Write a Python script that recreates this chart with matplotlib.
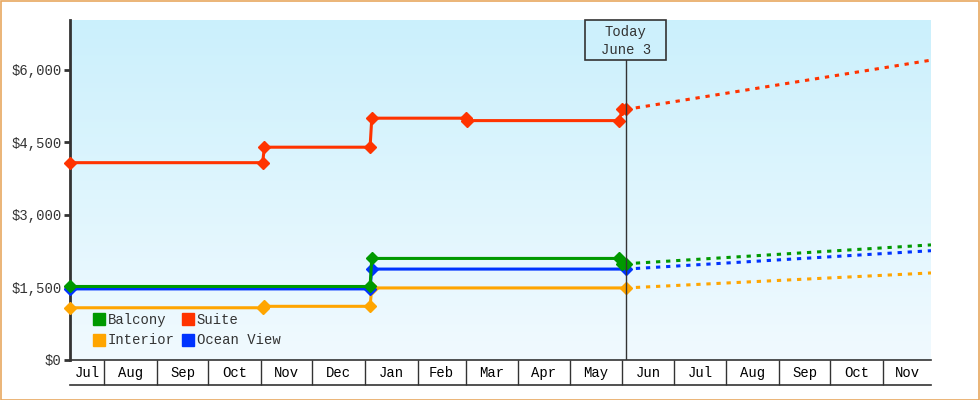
import numpy as np
import matplotlib
matplotlib.use("Agg")
import matplotlib.pyplot as plt
import matplotlib.dates as mdates
from matplotlib.patches import Rectangle
from matplotlib.lines import Line2D
from datetime import date

plt.rcParams['font.family'] = ['Liberation Mono', 'DejaVu Sans Mono']
plt.rcParams['font.size'] = 10

# ---- data ----
start = date(2012, 7, 12)
end = date(2013, 11, 29)
today = date(2013, 6, 3)

suite_dates = [date(2012, 7, 12), date(2012, 11, 2), date(2012, 11, 3), date(2013, 1, 4),
               date(2013, 1, 5), date(2013, 3, 1), date(2013, 3, 2), date(2013, 5, 30),
               date(2013, 6, 1), date(2013, 6, 3)]
suite_vals = [4080, 4080, 4400, 4400, 5000, 5000, 4950, 4950, 5180, 5180]

balcony_dates = [date(2012, 7, 12), date(2013, 1, 4), date(2013, 1, 5), date(2013, 5, 30),
                 date(2013, 6, 1), date(2013, 6, 3)]
balcony_vals = [1520, 1520, 2100, 2100, 1990, 1990]

ocean_dates = [date(2012, 7, 12), date(2013, 1, 4), date(2013, 1, 5), date(2013, 6, 3)]
ocean_vals = [1470, 1470, 1880, 1880]

interior_dates = [date(2012, 7, 12), date(2012, 11, 2), date(2012, 11, 3), date(2013, 1, 4),
                  date(2013, 1, 5), date(2013, 6, 3)]
interior_vals = [1080, 1080, 1110, 1110, 1490, 1490]

forecast_dates = [today, end]
suite_fc = [5180, 6200]
balcony_fc = [1990, 2380]
ocean_fc = [1880, 2260]
interior_fc = [1490, 1800]

yticks = [0, 1500, 3000, 4500, 6000]
month_starts = [date(2012, m, 1) for m in range(8, 13)] + [date(2013, m, 1) for m in range(1, 12)]

c_balcony = '#009900'
c_suite = '#ff3300'
c_interior = '#ffa500'
c_ocean = '#0033ff'
dark = '#333333'

fig = plt.figure(figsize=(9.8, 4.0), dpi=100)
ax = fig.add_axes([70/980, 40/400, 861/980, 340/400])

x0, x1 = mdates.date2num(start), mdates.date2num(end)
ymax = 7030
ax.set_xlim(x0, x1)
ax.set_ylim(0, ymax)

# gradient background
grad = np.linspace(0, 1, 256).reshape(-1, 1)
top = np.array([203, 240, 252]) / 255
bot = np.array([241, 250, 255]) / 255
img = top + (bot - top) * grad[:, :, None].repeat(1, axis=1)
ax.imshow(img, extent=[x0, x1, 0, ymax], aspect='auto', origin='upper', zorder=0)

# drawing order: interior, ocean view, balcony, suite
series = [
    (interior_dates, interior_vals, interior_fc, c_interior),
    (ocean_dates, ocean_vals, ocean_fc, c_ocean),
    (balcony_dates, balcony_vals, balcony_fc, c_balcony),
    (suite_dates, suite_vals, suite_fc, c_suite),
]
for d, v, fc, c in series:
    ax.plot(forecast_dates, fc, color=c, lw=2.2, linestyle=(0, (1.4, 1.9)), zorder=3)
for d, v, fc, c in series:
    ax.plot(d, v, color=c, lw=2.2, marker='D', markersize=6, zorder=4, clip_on=False)

# today marker with label box
tx = mdates.date2num(today)
box_bottom = ymax * 300 / 340
half_w = 40.5 / 861 * (x1 - x0)
ax.plot([tx, tx], [0, box_bottom], color=dark, lw=1, zorder=5)
ax.add_patch(Rectangle((tx - half_w, box_bottom), 2 * half_w, ymax - box_bottom,
                       fc='#cdf0fc', ec=dark, lw=1.2, zorder=6, clip_on=False))
ax.text(tx, ymax * 319 / 340, "Today\nJune 3", ha='center', va='center',
        color=dark, fontsize=10, linespacing=1.35, zorder=7)

# y axis
ax.set_yticks(yticks)
ax.set_yticklabels(['$' + format(t, ',') for t in yticks])
ax.tick_params(axis='y', length=4, width=2, color=dark, labelcolor=dark, pad=2)
for s in ['top', 'right']:
    ax.spines[s].set_visible(False)
ax.spines['left'].set_color(dark)
ax.spines['left'].set_linewidth(2)
ax.spines['left'].set_zorder(2)
ax.spines['bottom'].set_color(dark)
ax.spines['bottom'].set_linewidth(1.2)

# month band on x axis
ax.set_xticks([mdates.date2num(m) for m in month_starts])
ax.set_xticklabels([])
ax.tick_params(axis='x', which='major', length=18, width=1, color=dark, direction='out')
edges = [x0] + [mdates.date2num(m) for m in month_starts] + [x1]
mids = [(a + b) / 2 for a, b in zip(edges[:-1], edges[1:])]
labels = [mdates.num2date(a).strftime('%b') for a in edges[:-1]]
ax.set_xticks(mids, minor=True)
ax.set_xticklabels(labels, minor=True)
ax.tick_params(axis='x', which='minor', length=0, pad=4, labelcolor='black')
ax.plot([0, 1], [-25/340, -25/340], transform=ax.transAxes, color=dark, lw=1.2, clip_on=False)

# legend
handles = [Line2D([], [], color=c, marker='s', linestyle='none', markersize=8)
           for c in [c_balcony, c_interior, c_suite, c_ocean]]
ax.legend(handles, ['Balcony', 'Interior', 'Suite', 'Ocean View'], ncol=2,
          loc='lower left', bbox_to_anchor=(18/861, 7/340), frameon=False,
          handlelength=0.8, handletextpad=0.2, columnspacing=0.6, labelspacing=0.45,
          borderaxespad=0, labelcolor=dark)

# outer frame
fig.patches.append(Rectangle((0.5/980, 0.5/400), 1 - 1.5/980, 1 - 1.5/400, transform=fig.transFigure,
                             fill=False, ec='#e8a860', lw=1.2))

fig.savefig('out.png', dpi=100)
